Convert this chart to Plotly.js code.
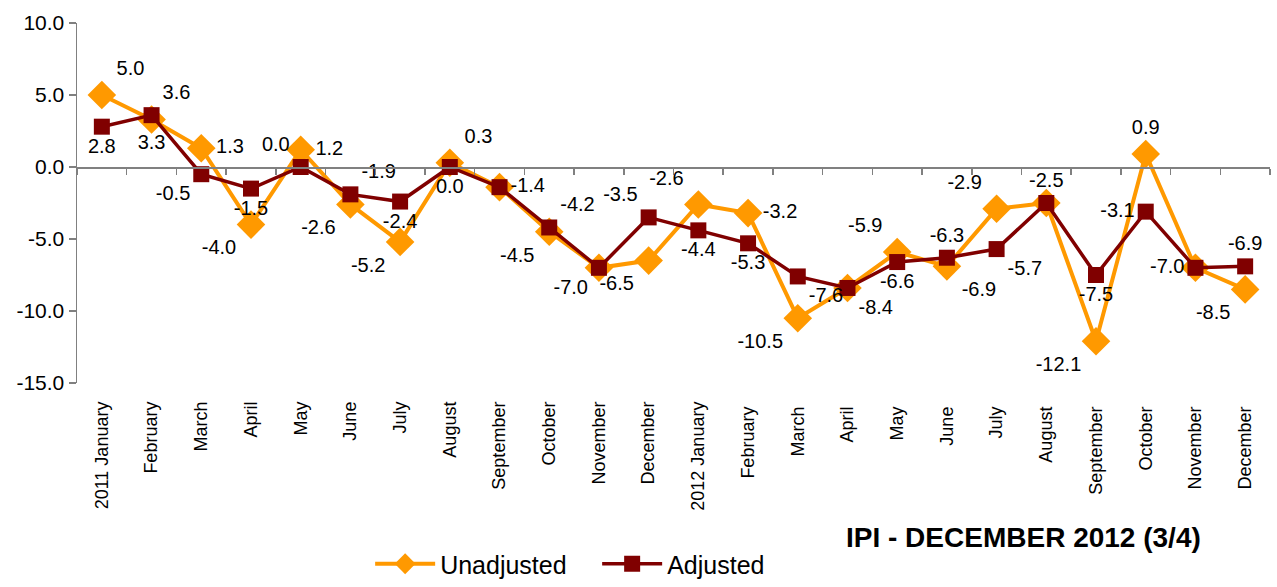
<!DOCTYPE html>
<html><head><meta charset="utf-8">
<script src="https://cdn.plot.ly/plotly-3.0.1.min.js"></script>
<style>html,body{margin:0;padding:0;background:#fff;}#chart{width:1277px;height:587px;}</style>
</head><body><div id="chart"></div>
<script>
var categories = ["2011 January","February","March","April","May","June","July","August","September","October","November","December",
                  "2012 January","February ","March ","April ","May ","June ","July ","August ","September ","October ","November ","December "];
var unadjusted = [5.0,3.3,1.3,-4.0,1.2,-2.6,-5.2,0.3,-1.4,-4.5,-7.0,-6.5,-2.6,-3.2,-10.5,-8.4,-5.9,-6.9,-2.9,-2.5,-12.1,0.9,-7.0,-8.5];
var adjusted   = [2.8,3.6,-0.5,-1.5,0.0,-1.9,-2.4,0.0,-1.4,-4.2,-7.0,-3.5,-4.4,-5.3,-7.6,-8.4,-6.6,-6.3,-5.7,-2.5,-7.5,-3.1,-7.0,-6.9];
var yTicks = [-15,-10,-5,0,5,10];

var posUn = ["top right","bottom center","middle right","bottom left","middle right","bottom left","bottom left","top right",
  "middle right","bottom left","bottom left","bottom left","top left","middle right","bottom left","bottom right",
  "top left","bottom right","top left","top center","bottom left","top center","middle left","bottom left"];
var posAd = ["bottom center","top right","bottom left","bottom center","top left","top right","bottom center","bottom center",
  "middle right","top right","bottom left","top left","bottom center","bottom center","bottom right","bottom right",
  "bottom center","top center","bottom right","top center","bottom center","middle left","middle left","top center"];

function fmt(v){ return v.toFixed(1); }
// where both series share the same value only one label is shown (as in the original)
var unText = unadjusted.map(function(v, i){ return Math.abs(v - adjusted[i]) < 0.05 ? "" : fmt(v); });
var font = "Liberation Sans, Arial, sans-serif";

var traces = [
  {x: categories, y: unadjusted, name: "Unadjusted", type: "scatter", mode: "lines+markers+text",
   line: {color: "#FF9900", width: 4}, marker: {symbol: "diamond", size: 22, color: "#FF9900"},
   text: unText, textposition: posUn, textfont: {family: font, size: 20, color: "#000"},
   cliponaxis: false, hoverinfo: "x+y"},
  {x: categories, y: adjusted, name: "Adjusted", type: "scatter", mode: "lines+markers+text",
   line: {color: "#800000", width: 3.5}, marker: {symbol: "square", size: 16, color: "#800000"},
   text: adjusted.map(fmt), textposition: posAd, textfont: {family: font, size: 20, color: "#000"},
   cliponaxis: false, hoverinfo: "x+y"},
  {x: categories, y: adjusted, xaxis: "x2", type: "scatter", mode: "none", showlegend: false, hoverinfo: "skip"}
];

var layout = {
  width: 1277, height: 587,
  margin: {l: 77, r: 7, t: 23, b: 204},
  paper_bgcolor: "#fff", plot_bgcolor: "#fff",
  showlegend: true,
  font: {family: font, color: "#000"},
  xaxis: {type: "category", categoryorder: "array", categoryarray: categories, range: [-0.5, 23.5],
          showline: false, showgrid: false, zeroline: false, ticks: "", tickangle: -90, ticklabelstandoff: 14,
          tickfont: {family: font, size: 18, color: "#000"}, automargin: false},
  xaxis2: {type: "category", categoryorder: "array", categoryarray: categories, range: [-0.5, 23.5],
           overlaying: "x", anchor: "free", position: 0.6, side: "bottom",
           showline: true, linecolor: "#808080", linewidth: 1.5, showgrid: false, zeroline: false,
           ticks: "outside", tickson: "boundaries", ticklen: 6, tickcolor: "#808080", tickwidth: 1.5,
           showticklabels: false},
  yaxis: {range: [-15, 10], tickvals: yTicks, ticktext: yTicks.map(fmt), showgrid: false, zeroline: false,
          showline: true, linecolor: "#808080", linewidth: 1.5, ticks: "outside", ticklen: 7,
          tickcolor: "#808080", tickwidth: 1.5, tickfont: {family: font, size: 21, color: "#000"}, automargin: false},
  legend: {orientation: "h", x: 0.436, xanchor: "center", xref: "paper", y: -0.015, yanchor: "bottom", yref: "container",
           font: {family: font, size: 25, color: "#000"}, traceorder: "normal", itemwidth: 60,
           entrywidth: 152, entrywidthmode: "pixels"},
  annotations: [{text: "<b>IPI - DECEMBER 2012 (3/4)</b>", xref: "paper", yref: "paper", x: 0.944, y: -0.428,
                 xanchor: "right", yanchor: "middle", showarrow: false,
                 font: {family: font, size: 28, color: "#000"}}]
};
Plotly.newPlot("chart", traces, layout, {displayModeBar: false, staticPlot: true});
</script>
</body></html>
